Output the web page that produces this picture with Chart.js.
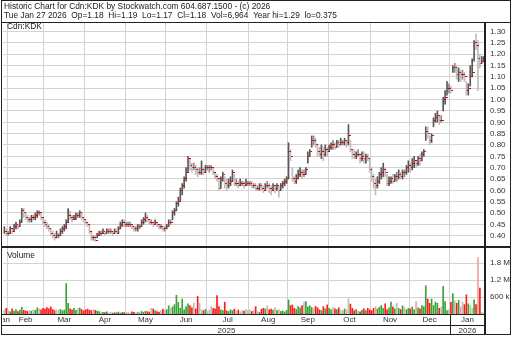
<!DOCTYPE html>
<html>
<head>
<meta charset="utf-8">
<title>Cdn:KDK historic chart</title>
<script src="https://cdn.jsdelivr.net/npm/chart.js@4.4.1/dist/chart.umd.min.js"></script>
<style>
  body { margin: 0; background: #fff; width: 512px; height: 337px; overflow: hidden; position: relative;
         font-family: "Liberation Sans", Arial, sans-serif; color: #222; }
  .abs { position: absolute; }
  .txt { font-size: 8.4px; line-height: 9px; white-space: pre; }
  .hl { position: absolute; background: #222; }
</style>
</head>
<body>

<canvas id="priceChart" class="abs" width="507" height="224" style="left:3px; top:23px"></canvas>
<canvas id="volChart" class="abs" width="507" height="88" style="left:3px; top:247px"></canvas>

<!-- frame lines -->
<div class="abs" style="left:1px; top:0; width:510px; height:335px; border:1px solid #222; box-sizing:border-box"></div>
<div class="hl" style="left:1px; top:22px; width:510px; height:1px"></div>
<div class="hl" style="left:1px; top:246px; width:510px; height:2px"></div>
<div class="hl" style="left:484px; top:22px; width:2px; height:313px"></div>
<div class="hl" style="left:1px; top:314px; width:484px; height:1px"></div>
<div class="hl" style="left:1px; top:325px; width:484px; height:1px"></div>
<div class="hl" style="left:450px; top:314px; width:1px; height:21px"></div>

<div class="abs txt" style="left:4px; top:2px">Historic Chart for Cdn:KDK by Stockwatch.com 604.687.1500 - (c) 2026
Tue Jan 27 2026  Op=1.18  Hi=1.19  Lo=1.17  Cl=1.18  Vol=6,964  Year hi=1.29  lo=0.375</div>
<div class="abs txt" style="left:7px; top:22px">Cdn:KDK</div>
<div class="abs txt" style="left:7px; top:251px">Volume</div>

<script>
/* ================================
   Data (daily bars, Jan 30 2025 - Jan 27 2026)
   prices in cents, volume in thousands
================================ */
const highs = [44,43,42,44,43,45,46,45,47,52,52,
  50,49,48,49,49,50,51,51,50,48,47,46,45,43,42,41,42,41,
  43,44,45,47,52,51,49,49,50,50,51,50,48,47,46,45,42,40,40,
  41,42,42,43,42,43,43,43,42,43,43,44,46,47,47,46,46,
  46,45,44,44,45,45,47,48,50,49,47,47,46,47,46,45,45,44,44,45,47,47,51,52,55,57,61,63,66,70,75,
  74,72,72,71,70,70,73,70,71,71,71,71,70,68,67,65,66,68,66,65,65,66,69,67,65,64,65,64,64,65,64,64,64,63,
  63,62,63,63,62,63,64,63,62,63,62,63,62,63,64,65,66,81,78,70,66,67,69,70,69,69,70,77,78,84,
  84,83,80,79,80,79,80,79,80,81,82,81,82,82,83,82,83,82,89,82,78,78,77,78,76,77,77,76,76,74,
  70,67,65,66,68,70,72,70,67,66,66,67,67,68,69,68,69,69,71,73,72,74,75,73,75,76,77,78,88,88,
  84,85,92,94,95,93,93,101,104,108,107,
  106,115,116,115,114,113,113,112,108,107,115,118,126,129,126,120,119,119];

const lows = [41,40,40,41,41,42,43,43,44,46,48,
  47,46,46,46,47,47,48,49,47,45,44,43,42,40,39,38,39,39,
  40,41,42,43,46,47,46,47,47,48,48,47,46,45,44,41,38,38,37.5,
  39,40,40,41,40,41,41,41,40,41,41,41,43,44,44,44,44,
  44,43,42,42,42,43,44,45,46,46,45,45,44,45,44,43,43,42,42,43,44,45,47,49,51,53,55,58,61,64,68,
  69,68,69,67,66,67,67,67,68,69,68,69,67,65,64,60,61,64,61,60,61,62,64,62,62,61,62,62,61,62,62,62,61,61,
  60,60,60,60,59,60,61,59,58,60,59,60,57,60,61,62,63,65,73,64,63,63,65,66,65,66,67,72,75,79,
  80,79,75,75,74,73,75,75,77,78,78,78,79,79,80,80,80,79,80,77,74,74,74,75,72,73,72,72,73,68,
  64,61,58,61,63,65,66,66,62,62,63,63,64,64,65,65,65,66,67,68,68,69,70,70,71,71,73,75,82,83,
  80,81,88,90,90,89,90,95,98,102,103,
  103,112,112,109,108,108,109,108,102,102,106,110,117,122,104,114,116,117];

const closes = [42,41,41,43,42,44,45,44,46,51,50,
  48,47,47,48,48,49,50,50,48,46,45,44,43,41,40,39,40,40,
  42,43,44,46,49,48,47,48,49,49,50,48,47,46,45,42,39,39,38,
  40,41,41,42,41,42,42,42,41,42,41,43,45,46,45,45,45,
  45,44,43,43,44,44,46,47,48,47,46,46,45,46,45,44,44,43,43,44,46,46,50,51,54,55,60,62,65,68,74,
  71,70,70,69,68,68,69,68,70,70,70,70,68,66,65,61,65,67,63,62,63,64,68,63,63,62,63,63,62,63,63,63,62,62,
  61,61,62,61,60,62,62,61,60,62,61,62,60,62,63,64,65,77,75,65,64,65,67,68,67,67,69,75,77,82,
  82,80,77,76,77,76,78,77,79,80,80,79,81,80,81,81,82,81,84,78,76,75,76,76,74,75,74,75,74,69,
  66,63,62,64,67,68,69,68,63,64,65,64,66,66,67,66,68,68,70,71,70,72,73,72,74,73,76,77,86,85,
  82,84,91,92,93,91,91,100,101,105,105,
  104,114,114,111,112,111,111,110,104,105,110,112,125,124,118,116,117,118];

const volumes = [150,200,120,80,180,100,160,90,140,240,130,
  110,90,120,100,150,130,220,180,150,200,170,230,180,250,160,120,150,130,
  160,120,140,1080,380,180,150,200,130,190,210,160,110,
  150,170,140,120,160,130,100,90,70,60,50,80,40,60,30,50,40,70,30,60,50,
  40,60,30,80,60,40,50,70,90,60,100,80,70,200,180,120,90,70,120,170,130,
  150,290,200,250,330,660,410,200,530,150,260,360,300,220,380,180,620,380,150,120,160,
  100,140,260,200,180,650,260,150,120,420,110,90,150,120,170,100,140,80,120,100,160,130,
  150,90,120,260,80,60,170,200,180,290,150,170,140,230,120,160,90,110,70,130,
  500,300,320,200,160,260,220,300,420,440,250,290,230,200,270,220,150,120,260,180,320,
  200,150,240,180,160,220,140,120,180,150,540,350,200,120,160,100,80,140,180,120,200,150,
  120,200,260,180,240,300,200,360,150,220,420,250,180,380,200,160,290,230,150,200,
  180,250,150,440,220,180,300,260,1000,530,380,530,300,420,380,200,250,980,440,120,160,
  410,720,460,380,480,250,420,330,680,360,300,200,500,330,2000,920,60,7];

// index of first trading day of each month, and its label
const monthFirstDay = [0, 2, 21, 42, 63, 84, 105, 127, 147, 168, 190, 210, 231];
const monthNames = ["Jan", "Feb", "Mar", "Apr", "May", "Jun", "Jul", "Aug", "Sep", "Oct", "Nov", "Dec", "Jan"];
const yearNames = ["2025", "2026"];
const yearFirstMonth = [0, 12];

const priceTicks = [0.40,0.45,0.50,0.55,0.60,0.65,0.70,0.75,0.80,0.85,0.90,0.95,1.00,1.05,1.10,1.15,1.20,1.25,1.30];
const volTicks = [600, 1200, 1800];

/* ================================
   Layout / style
================================ */
const X_MIN = -0.71, X_MAX = 248.64;
const GRID = "#d3d3d3";
const TXT = "#333";

Chart.defaults.font.family = "'Liberation Sans', Arial, sans-serif";
Chart.defaults.font.size = 8;
Chart.defaults.color = TXT;

// month boundaries (gridlines) and label centres
const bounds = monthFirstDay.slice(1).map(d => d - 0.5);
const edges = [X_MIN].concat(bounds, [X_MAX]);
const monthCenters = monthNames.map((m, k) => k === 0 ? -0.45 : (edges[k] + edges[k + 1]) / 2);
const yearEdges = yearFirstMonth.map(k => edges[k]).concat([X_MAX]);
const yearCenters = yearNames.map((y, k) => (yearEdges[k] + yearEdges[k + 1]) / 2);

function dir(i) {
  if (i === 0) return 1;
  return Math.sign(closes[i] - closes[i - 1]);
}
function strong(i) {
  const mid = (highs[i] + lows[i]) / 2;
  return dir(i) > 0 ? closes[i] >= mid : closes[i] <= mid;
}

const barColors = closes.map((c, i) => dir(i) > 0 ? "#585858" : dir(i) < 0 ? "#bdbdbd" : "#8c8c8c");
const volColors = closes.map((c, i) => {
  const d = dir(i);
  if (d === 0) return "#bcbcbc";
  if (d > 0) return strong(i) ? "#3aa335" : "#a6d49d";
  return strong(i) ? "#ff1a1a" : "#f4a0a0";
});

// close tick drawn to the right of the bar
const tick = document.createElement("canvas");
tick.width = 5; tick.height = 1;
const tctx = tick.getContext("2d");
tctx.fillStyle = "#e00000";
tctx.fillRect(3, 0, 2, 1);

function noPad(s) { s.paddingLeft = 0; s.paddingRight = 0; s.paddingTop = 0; s.paddingBottom = 0; }

function xAxis(weight, height, values, labels) {
  return {
    type: "linear", min: X_MIN, max: X_MAX, position: "bottom", weight: weight,
    offset: false,
    afterBuildTicks: s => { s.ticks = values.map(v => ({ value: v })); },
    afterFit: s => { s.height = height; noPad(s); },
    ticks: labels
      ? { display: true, autoSkip: false, maxRotation: 0, minRotation: 0, padding: 1, callback: (v, k) => labels[k] }
      : { display: false },
    grid: labels
      ? { display: false, drawTicks: false, offset: false }
      : { color: GRID, drawTicks: false, offset: false },
    border: { display: false }
  };
}

const common = {
  responsive: false,
  devicePixelRatio: 1,
  animation: false,
  events: [],
  layout: { padding: 0, autoPadding: false },  // no room kept for point overflow
  plugins: { legend: { display: false }, tooltip: { enabled: false } }
};

/* ================================
   Price chart
================================ */
new Chart(document.getElementById("priceChart"), {
  type: "bar",
  data: {
    datasets: [
      {
        type: "line",
        data: closes.map((c, i) => ({ x: i, y: c / 100 })),
        showLine: false,
        pointStyle: tick,
        pointRadius: 2,
        order: 0
      },
      {
        type: "bar",
        data: closes.map((c, i) => ({ x: i, y: [lows[i] / 100, highs[i] / 100] })),
        backgroundColor: barColors,
        borderWidth: 0,
        barThickness: 1,
        order: 1
      }
    ]
  },
  options: {
    ...common,
    scales: {
      x: xAxis(0, 0, bounds, null),
      y: {
        type: "linear", position: "right", min: 0.35, max: 1.338,
        afterBuildTicks: s => { s.ticks = priceTicks.map(v => ({ value: v })); },
        afterFit: s => { s.width = 25; noPad(s); },
        ticks: { autoSkip: false, padding: 5, callback: v => v.toFixed(2) },
        grid: { color: GRID, drawTicks: false },
        border: { display: false }
      }
    }
  }
});

/* ================================
   Volume chart + date axes
================================ */
new Chart(document.getElementById("volChart"), {
  type: "bar",
  data: {
    datasets: [{
      data: volumes.map((v, i) => ({ x: i, y: v })),
      backgroundColor: volColors,
      borderWidth: 0,
      barThickness: 1
    }]
  },
  options: {
    ...common,
    scales: {
      x: xAxis(0, 0, bounds, null),
      xm: xAxis(1, 11, monthCenters, monthNames),
      xy: xAxis(2, 10, yearCenters, yearNames),
      y: {
        type: "linear", position: "right", min: 0, max: 2370,
        afterBuildTicks: s => { s.ticks = volTicks.map(v => ({ value: v })); },
        afterFit: s => { s.width = 25; noPad(s); },
        ticks: { autoSkip: false, padding: 5,
                 callback: v => v >= 1000 ? (v / 1000).toFixed(1) + " M" : v + " k" },
        grid: { color: GRID, drawTicks: false },
        border: { display: false }
      }
    }
  }
});
</script>
</body>
</html>
